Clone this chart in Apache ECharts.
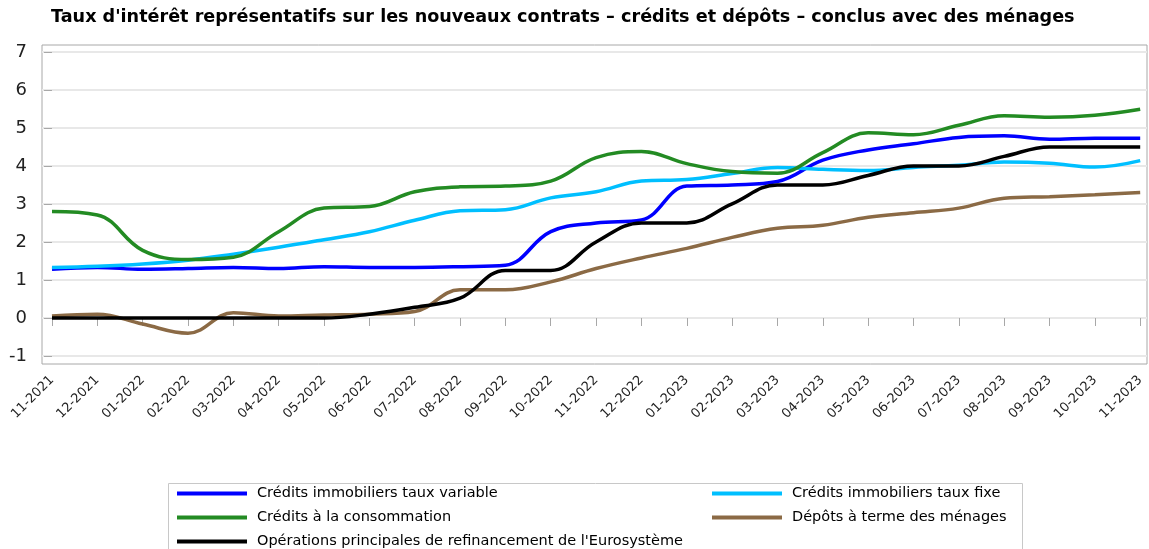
<!DOCTYPE html>
<html><head><meta charset="utf-8">
<script src="https://cdn.jsdelivr.net/npm/echarts@6/dist/echarts.min.js"></script>
<style>html,body{margin:0;padding:0;background:#fff}#c{width:1149px;height:549px}</style>
</head><body><div id="c"></div>
<script>
const categories = ['11-2021','12-2021','01-2022','02-2022','03-2022','04-2022','05-2022','06-2022','07-2022','08-2022','09-2022','10-2022','11-2022','12-2022','01-2023','02-2023','03-2023','04-2023','05-2023','06-2023','07-2023','08-2023','09-2023','10-2023','11-2023'];
const creditsImmoVariable = [1.28,1.33,1.28,1.30,1.33,1.30,1.35,1.33,1.33,1.35,1.39,2.27,2.50,2.58,3.47,3.50,3.59,4.15,4.42,4.58,4.75,4.79,4.70,4.73,4.73];
const creditsImmoFixe = [1.33,1.36,1.42,1.52,1.68,1.86,2.06,2.27,2.57,2.82,2.85,3.16,3.32,3.60,3.64,3.80,3.96,3.91,3.88,3.96,4.02,4.10,4.07,3.97,4.14];
const creditsConso = [2.80,2.71,1.78,1.54,1.60,2.27,2.89,2.93,3.32,3.45,3.47,3.60,4.22,4.38,4.06,3.85,3.81,4.35,4.87,4.82,5.07,5.32,5.28,5.33,5.49];
const depotsTerme = [0.05,0.10,-0.16,-0.40,0.14,0.05,0.08,0.10,0.17,0.74,0.74,0.95,1.30,1.58,1.83,2.12,2.36,2.44,2.65,2.77,2.89,3.15,3.19,3.24,3.30];
const refiEuro = [0,0,0,0,0,0,0,0.10,0.28,0.52,1.25,1.25,2.00,2.50,2.50,3.00,3.50,3.50,3.75,4.00,4.00,4.25,4.50,4.50,4.50];
const yTicks = [-1,0,1,2,3,4,5,6,7];
const seriesNames = ['Crédits immobiliers taux variable','Crédits immobiliers taux fixe','Crédits à la consommation','Dépôts à terme des ménages',"Opérations principales de refinancement de l'Eurosystème"];
const seriesColors = ['#0000ff','#00bfff','#238b23','#8b6a45','#000000'];
const seriesValues = [creditsImmoVariable, creditsImmoFixe, creditsConso, depotsTerme, refiEuro];
const xTickIdx = categories.map((c,i)=>i);

const FONT = 'DejaVu Sans';
const legendText = {fontFamily:FONT,fontSize:14.5,color:'#000',lineHeight:17,padding:[0,0,0,5]};
const chart = echarts.init(document.getElementById('c'), null, {renderer:'canvas'});
chart.setOption({
  animation:false,
  backgroundColor:'#fff',
  title:{text:"Taux d'intérêt représentatifs sur les nouveaux contrats – crédits et dépôts – conclus avec des ménages",
    left:51, top:8, padding:0, textStyle:{fontFamily:FONT,fontSize:17.6,fontWeight:'bold',color:'#000'}},
  grid:{left:42,right:2,top:45,bottom:185,show:true,borderColor:'#a8a8a8',borderWidth:1,containLabel:false},
  xAxis:{type:'value',min:-0.22,max:24.15,
    axisLine:{show:false},
    axisTick:{show:true,inside:false,length:8,customValues:xTickIdx,lineStyle:{color:'#a8a8a8',width:1}},
    axisLabel:{customValues:xTickIdx,rotate:45,margin:14,fontFamily:FONT,fontSize:13,color:'#222',
      formatter:v=>categories[Math.round(v)]},
    splitLine:{show:false}},
  yAxis:{type:'value',min:-1.21,max:7.18,
    axisLine:{show:false},
    axisTick:{show:true,inside:false,length:8,customValues:yTicks,lineStyle:{color:'#a8a8a8',width:1}},
    axisLabel:{customValues:yTicks,margin:15,fontFamily:FONT,fontSize:18,color:'#222'},
    splitLine:{show:true,lineStyle:{color:'#e8e8e8',width:2}}},
  legend:[
    {data:[seriesNames[0],seriesNames[2],seriesNames[4]],orient:'vertical',left:177,top:485,height:90,padding:0,itemWidth:70,itemHeight:4,itemGap:7,icon:'rect',
      textStyle:legendText},
    {data:[seriesNames[1],seriesNames[3]],orient:'vertical',left:712,top:485,height:90,padding:0,itemWidth:70,itemHeight:4,itemGap:7,icon:'rect',
      textStyle:legendText}
  ],
  graphic:[{type:'rect',left:166,top:481,shape:{width:854,height:80},style:{fill:'none',stroke:'#c8c8c8',lineWidth:1},silent:true}],
  series:seriesValues.map((vals,k)=>({
    name:seriesNames[k],type:'line',smooth:0.4,showSymbol:false,symbol:'none',
    data:vals.map((v,i)=>[i,v]),
    itemStyle:{color:seriesColors[k]},
    lineStyle:{color:seriesColors[k],width:3.5},
    z:k===4?5:2
  }))
});
</script></body></html>
